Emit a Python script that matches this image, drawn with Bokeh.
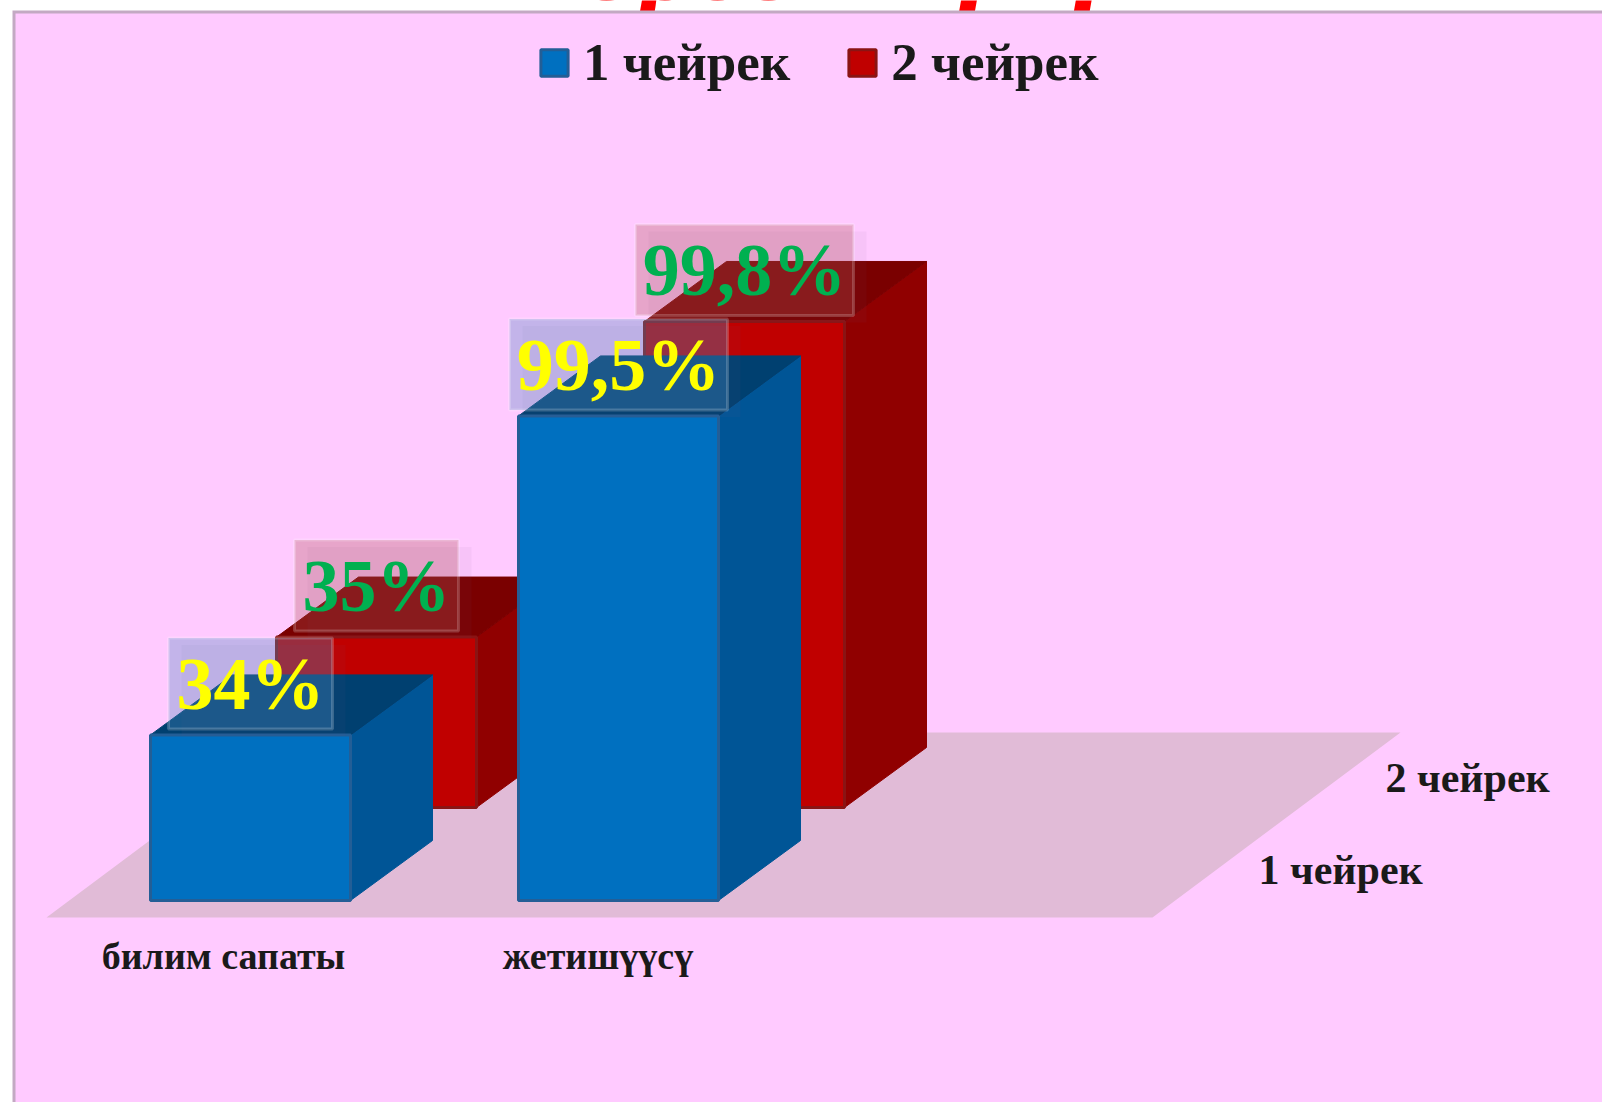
from bokeh.plotting import figure
from bokeh.models import Range1d, Legend, LegendItem
from bokeh.core.properties import value
from bokeh.embed import file_html
from bokeh.resources import INLINE

# ---- data ----
categories = ["билим сапаты", "жетишүүсү"]
series_names = ["1 чейрек", "2 чейрек"]
q1_values = [34, 99.5]
q2_values = [35, 99.8]
q1_labels = ["34%", "99,5%"]
q2_labels = ["35%", "99,8%"]
title_text = "Көрсөткүчү"

# ---- scales: one x unit is one category step, one y unit is one percent ----
W, H = 1602, 1102
PX_X0, PX_DX = 150.0, 368.0     # pixel of category 0, pixels per category
PX_Y0, PX_DY = 900.0, 4.87      # pixel of 0 %, pixels per percent
BASE_SHIFT = 0.37               # em: the text baseline correction of the svg backend


def ux(px):
    return (px - PX_X0) / PX_DX


def uy(py):
    return (PX_Y0 - py) / PX_DY


p = figure(width=W, height=H, output_backend="svg", toolbar_location=None,
           x_range=Range1d(ux(0), ux(W)), y_range=Range1d(uy(H), uy(0)),
           min_border=0, min_border_left=0, min_border_right=0,
           min_border_top=0, min_border_bottom=0)
p.styles = {"position": "absolute", "left": "0px", "top": "0px"}
p.axis.visible = False
p.grid.visible = False
p.outline_line_color = None
p.background_fill_color = "white"
p.border_fill_color = "white"

SERIF = value("Liberation Serif")


def put_text(xs, ys, texts, size, color, style="bold", align="left"):
    p.text(x=xs, y=ys, text=texts, text_font=SERIF, text_font_size=f"{size}px",
           text_font_style=style, text_color=color, text_align=align,
           text_baseline="alphabetic", y_offset=-BASE_SHIFT * size)


# clipped title
put_text([ux(812)], [uy(2.6)], [title_text], 112, "#FF0000", "bold italic", "center")

# panel with border
p.quad(left=[ux(12)], right=[ux(W + 10)], top=[uy(10)], bottom=[uy(H + 10)],
       fill_color="#C3A9C3", line_color=None)
p.quad(left=[ux(15)], right=[ux(W + 10)], top=[uy(13)], bottom=[uy(H + 10)],
       fill_color="#FFCAFF", line_color=None)

# floor
p.patch(x=[ux(46), ux(1152), ux(1400), ux(294)], y=[uy(917), uy(917), uy(732), uy(732)],
        fill_color="#E1BBD7", line_color=None)

# bars: oblique projection built from the values
BAR_W = 200.0 / PX_DX
DEPTH_X, DEPTH_Y = 82.0 / PX_DX, 60.0 / PX_DY
ROW_X, ROW_Y = 126.0 / PX_DX, 93.0 / PX_DY

STYLE = [
    dict(front="#0070C0", side="#005596", top="#004070", line="#235E96"),
    dict(front="#C00000", side="#900000", top="#7A0000", line="#8A1414"),
]
SERIES = [q1_values, q2_values]
front_renderers = {}


def draw_bar(cat, row):
    v = SERIES[row][cat]
    st = STYLE[row]
    x0 = cat + row * ROW_X
    x1 = x0 + BAR_W
    y0 = row * ROW_Y
    y1 = v + y0
    p.patch([x1, x1 + DEPTH_X, x1 + DEPTH_X, x1], [y0, y0 + DEPTH_Y, y1 + DEPTH_Y, y1],
            fill_color=st["side"], line_color=st["side"], line_width=1)
    p.patch([x0, x0 + DEPTH_X, x1 + DEPTH_X, x1], [y1, y1 + DEPTH_Y, y1 + DEPTH_Y, y1],
            fill_color=st["top"], line_color=st["top"], line_width=1)
    r = p.quad(left=[x0], right=[x1], bottom=[y0], top=[y1],
               fill_color=st["front"], line_color=st["line"], line_width=3)
    front_renderers.setdefault(row, r)


for row in (1, 0):
    for cat in range(len(categories)):
        draw_bar(cat, row)

# value labels in translucent boxes
BOX_W_PX = [164.0, 218.0]
BOX_H_PX = 91.0
GAP_PX = 6.0
BASE_PX = 18.0
LABEL_SIZE = 74
BOX = [dict(fill="#4A89BF", alpha=0.33, text="#FFFF00"),
       dict(fill="#AE5050", alpha=0.30, text="#00B050")]
LABELS = [q1_labels, q2_labels]


def draw_label(cat, row):
    st = BOX[row]
    cx = cat + row * ROW_X + BAR_W / 2
    bottom = SERIES[row][cat] + row * ROW_Y + GAP_PX / PX_DY
    top = bottom + BOX_H_PX / PX_DY
    half = BOX_W_PX[cat] / 2 / PX_DX
    sx, sy = 13.0 / PX_DX, 7.0 / PX_DY
    p.quad(left=[cx - half + sx], right=[cx + half + sx], bottom=[bottom - sy],
           top=[top - sy], fill_color="#705080", fill_alpha=0.06, line_color=None)
    p.quad(left=[cx - half], right=[cx + half], bottom=[bottom], top=[top],
           fill_color=st["fill"], fill_alpha=st["alpha"],
           line_color="white", line_alpha=0.2, line_width=3)
    put_text([cx], [bottom + BASE_PX / PX_DY], [LABELS[row][cat]], LABEL_SIZE, st["text"],
             align="center")


for cat in range(len(categories)):
    draw_label(cat, 1)
    draw_label(cat, 0)

# category labels
put_text([ux(223), ux(597.5)], [uy(970), uy(970)], categories, 38, "#1A1A1A", align="center")

# series-axis labels
put_text([ux(1258), ux(1385)], [uy(885), uy(793)], series_names, 42, "#1A1A1A")

# legend
legend = Legend(items=[LegendItem(label=series_names[i], renderers=[front_renderers[i]])
                       for i in range(2)],
                orientation="horizontal", location=(537, 1102 - 92),
                glyph_width=34, glyph_height=33, label_text_font="Liberation Serif",
                label_text_font_size="53px", label_text_font_style="bold",
                label_text_color="#1A1A1A", background_fill_alpha=0, border_line_color=None,
                spacing=55, padding=8, margin=0, label_standoff=12, label_height=50)
p.add_layout(legend, "center")

open("out.html", "w").write(file_html(p, INLINE))
